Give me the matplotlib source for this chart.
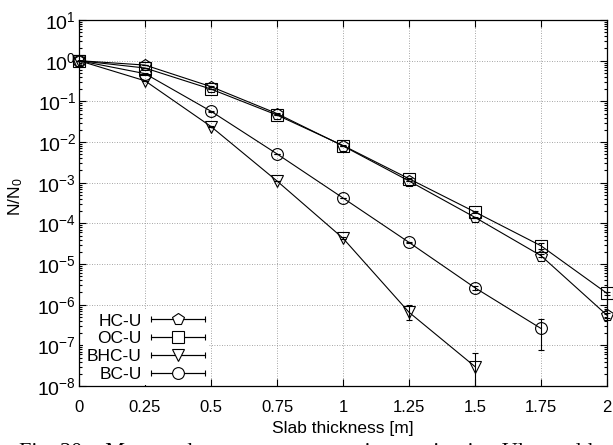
import numpy as np
import matplotlib
matplotlib.use("Agg")
import matplotlib.pyplot as plt
from matplotlib.ticker import LogLocator, NullFormatter
from matplotlib.container import ErrorbarContainer
from matplotlib.legend_handler import HandlerErrorbar

plt.rcParams['font.family'] = ['Liberation Sans', 'DejaVu Sans']
plt.rcParams['mathtext.fontset'] = 'custom'
plt.rcParams['mathtext.rm'] = 'Liberation Sans'
plt.rcParams['mathtext.it'] = 'Liberation Sans'
plt.rcParams['mathtext.bf'] = 'Liberation Sans'

# slab thickness [m]
thickness = [0, 0.25, 0.5, 0.75, 1.0, 1.25, 1.5, 1.75, 2.0]

# N/N0 values
hc_u = [1.0, 0.78, 0.23, 0.050, 0.0080, 1.1e-3, 1.4e-4, 1.6e-5, 5.5e-7]
hc_err = [0, 0.01, 0.004, 0.001, 1e-4, 3e-5, 6e-6, 1.5e-6, 8e-8]

oc_u = [1.0, 0.66, 0.20, 0.046, 0.0082, 1.25e-3, 1.9e-4, 2.8e-5, 1.9e-6]
oc_err = [0, 0.01, 0.004, 0.001, 1e-4, 3e-5, 7e-6, 4e-6, 2e-7]

bhc_x = [0, 0.25, 0.5, 0.75, 1.0, 1.25, 1.5]
bhc_u = [1.0, 0.32, 0.024, 1.1e-3, 4.3e-5, 6.5e-7, 3.0e-8]
bhc_lo = [0, 0.005, 5e-4, 3e-5, 2e-6, 2.3e-7, 2.0e-8]
bhc_hi = [0, 0.005, 5e-4, 3e-5, 2e-6, 3.5e-7, 3.3e-8]

bc_x = [0, 0.25, 0.5, 0.75, 1.0, 1.25, 1.5, 1.75]
bc_u = [1.0, 0.48, 0.057, 5.1e-3, 4.2e-4, 3.4e-5, 2.6e-6, 2.6e-7]
bc_lo = [0, 0.008, 1e-3, 1e-4, 1e-5, 1.5e-6, 3e-7, 1.85e-7]
bc_hi = [0, 0.008, 1e-3, 1e-4, 1e-5, 1.5e-6, 3e-7, 1.8e-7]

labels = ['HC-U', 'OC-U', 'BHC-U', 'BC-U']
markers = ['p', 's', 'v', 'o']

xticks = [0, 0.25, 0.5, 0.75, 1, 1.25, 1.5, 1.75, 2]
xticklabels = ['0', '0.25', '0.5', '0.75', '1', '1.25', '1.5', '1.75', '2']

caption = 'Fig. 20:   Measured   neutron   attenuation   ratio   in   Ultra-cold   slabs'

fig = plt.figure(figsize=(6.13, 4.45), dpi=100)
ax = fig.add_axes([79/613, 59/445, 528/613, 366/445])

style = dict(color='black', lw=0.8, ms=8.5, mfc='none', mec='black',
             mew=0.8, capsize=2.5, elinewidth=0.8, capthick=0.8)

series = [
    (thickness, hc_u, hc_err),
    (thickness, oc_u, oc_err),
    (bhc_x, bhc_u, [bhc_lo, bhc_hi]),
    (bc_x, bc_u, [bc_lo, bc_hi]),
]
for (x, y, err), m in zip(series, markers):
    eb = ax.errorbar(x, y, yerr=err, marker=m, **style)
    for art in eb.get_children():
        art.set_clip_on(False)

ax.set_yscale('log')
ax.set_ylim(1e-8, 1e1)
ax.set_xlim(0, 2)
ax.set_xticks(xticks)
ax.set_xticklabels(xticklabels)
ax.yaxis.set_major_locator(LogLocator(base=10, numticks=20))
ax.yaxis.set_minor_locator(LogLocator(base=10, subs=np.arange(2, 10), numticks=20))
ax.yaxis.set_minor_formatter(NullFormatter())

ax.tick_params(which='both', direction='in', top=True, right=True, width=0.8)
ax.tick_params(which='major', length=5)
ax.tick_params(which='minor', length=2.5)
ax.tick_params(axis='x', labelsize=12, pad=10)
ax.tick_params(axis='y', labelsize=14, pad=2)

ax.grid(True, which='major', linestyle=(0, (1, 2)), color='#888888', lw=0.6)
for s in ax.spines.values():
    s.set_linewidth(0.9)

ax.set_xlabel('Slab thickness [m]', fontsize=12.5, va='top')
ax.xaxis.set_label_coords(0.5, -0.095)
ax.set_ylabel('N/N$_0$', fontsize=12.5)
ax.yaxis.set_label_coords(-0.102, 0.516)

# legend proxies: horizontal error bars as in the original key
proxies = []
for m in markers:
    h = ax.errorbar([np.nan], [np.nan], xerr=[1], marker=m, color='black',
                    lw=0.8, ms=8.5, mfc='white', mec='black', mew=0.8,
                    capsize=2.5, elinewidth=0.8, capthick=0.8)
    proxies.append(h)

leg = ax.legend(proxies, labels, loc='lower left',
                bbox_to_anchor=(0.008, 0.002), markerfirst=False, numpoints=1,
                fontsize=12.5, handlelength=3.1, handletextpad=0.57,
                labelspacing=0.15, borderpad=0.2, borderaxespad=0,
                frameon=True, fancybox=False, framealpha=1,
                facecolor='white', edgecolor='none',
                handler_map={ErrorbarContainer: HandlerErrorbar(xerr_size=1.55)})
leg.set_zorder(5)

fig.text(19/613, -0.028, caption,
         family=['Liberation Serif', 'DejaVu Serif'], fontsize=16,
         va='baseline', ha='left')

fig.savefig('out.png', dpi=100)
